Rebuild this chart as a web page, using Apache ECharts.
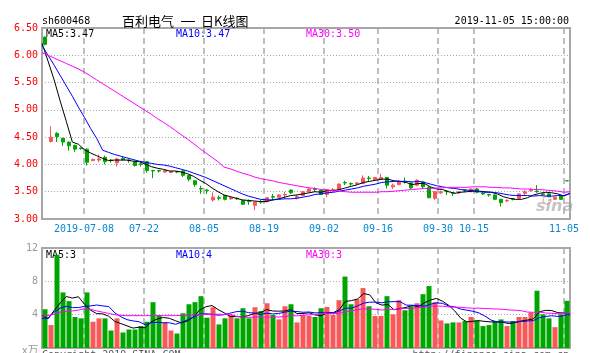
<!DOCTYPE html>
<html>
<head>
<meta charset="utf-8">
<title>sh600468 日K线图</title>
<script src="https://cdn.jsdelivr.net/npm/echarts@6/dist/echarts.min.js"></script>
<style>
    html, body { margin: 0; padding: 0; background: #fff; }
    #kline { width: 590px; height: 353px; }
</style>
</head>
<body>
<div id="kline"></div>
<script>
// 交易日
const dates = [
    '2019-06-27','2019-06-28','2019-07-01','2019-07-02','2019-07-03','2019-07-04','2019-07-05','2019-07-08','2019-07-09','2019-07-10',
    '2019-07-11','2019-07-12','2019-07-15','2019-07-16','2019-07-17','2019-07-18','2019-07-19','2019-07-22','2019-07-23','2019-07-24',
    '2019-07-25','2019-07-26','2019-07-29','2019-07-30','2019-07-31','2019-08-01','2019-08-02','2019-08-05','2019-08-06','2019-08-07',
    '2019-08-08','2019-08-09','2019-08-12','2019-08-13','2019-08-14','2019-08-15','2019-08-16','2019-08-19','2019-08-20','2019-08-21',
    '2019-08-22','2019-08-23','2019-08-26','2019-08-27','2019-08-28','2019-08-29','2019-08-30','2019-09-02','2019-09-03','2019-09-04',
    '2019-09-05','2019-09-06','2019-09-09','2019-09-10','2019-09-11','2019-09-12','2019-09-16','2019-09-17','2019-09-18','2019-09-19',
    '2019-09-20','2019-09-23','2019-09-24','2019-09-25','2019-09-26','2019-09-27','2019-09-30','2019-10-08','2019-10-09','2019-10-10',
    '2019-10-11','2019-10-14','2019-10-15','2019-10-16','2019-10-17','2019-10-18','2019-10-21','2019-10-22','2019-10-23','2019-10-24',
    '2019-10-25','2019-10-28','2019-10-29','2019-10-30','2019-10-31','2019-11-01','2019-11-04','2019-11-05'
];

// 开盘 / 收盘 / 最低 / 最高
const opens = [
    6.33,4.42,4.57,4.48,4.41,4.35,4.30,4.28,4.07,4.08, 4.13,4.08,4.03,4.11,4.08,4.05,4.01,4.05,3.89,3.89,
    3.86,3.85,3.87,3.88,3.80,3.70,3.56,3.53,3.35,3.39, 3.43,3.37,3.38,3.34,3.33,3.25,3.32,3.32,3.41,3.40,
    3.44,3.53,3.39,3.43,3.50,3.55,3.53,3.45,3.52,3.54, 3.67,3.65,3.64,3.65,3.75,3.72,3.73,3.76,3.59,3.63,
    3.69,3.66,3.62,3.68,3.58,3.38,3.48,3.51,3.48,3.48, 3.53,3.50,3.55,3.47,3.45,3.44,3.36,3.33,3.37,3.38,
    3.47,3.52,3.51,3.46,3.46,3.36,3.42,3.70
];
const closes = [
    6.20,4.50,4.51,4.41,4.34,4.28,4.29,4.04,4.09,4.10, 4.05,4.07,4.10,4.09,4.07,3.98,4.00,3.89,3.88,3.88,
    3.89,3.87,3.86,3.80,3.73,3.63,3.55,3.52,3.40,3.38, 3.36,3.39,3.37,3.27,3.32,3.31,3.31,3.39,3.40,3.44,
    3.45,3.48,3.41,3.50,3.55,3.54,3.45,3.54,3.54,3.64, 3.66,3.64,3.66,3.75,3.74,3.76,3.76,3.62,3.62,3.68,
    3.68,3.57,3.71,3.59,3.39,3.50,3.50,3.50,3.47,3.50, 3.52,3.55,3.49,3.46,3.44,3.36,3.30,3.34,3.36,3.46,
    3.50,3.53,3.50,3.45,3.41,3.40,3.36,3.70
];
const lows = [
    6.18,4.40,4.41,4.34,4.25,4.23,4.27,3.98,4.06,4.04, 4.00,4.03,3.96,4.07,4.03,3.96,3.96,3.85,3.75,3.85,
    3.85,3.84,3.84,3.77,3.69,3.59,3.46,3.46,3.32,3.34, 3.34,3.35,3.35,3.26,3.26,3.16,3.28,3.30,3.34,3.38,
    3.37,3.46,3.36,3.42,3.49,3.50,3.44,3.40,3.50,3.53, 3.62,3.61,3.62,3.64,3.68,3.71,3.72,3.56,3.55,3.62,
    3.65,3.55,3.60,3.57,3.38,3.35,3.46,3.44,3.42,3.46, 3.49,3.49,3.47,3.44,3.41,3.35,3.23,3.31,3.34,3.37,
    3.44,3.50,3.48,3.43,3.40,3.35,3.35,3.70
];
const highs = [
    6.35,4.70,4.59,4.48,4.42,4.36,4.31,4.29,4.11,4.18, 4.16,4.10,4.12,4.14,4.10,4.07,4.03,4.06,3.90,3.90,
    3.90,3.88,3.88,3.90,3.81,3.71,3.61,3.55,3.49,3.43, 3.44,3.41,3.39,3.35,3.36,3.32,3.35,3.40,3.46,3.46,
    3.50,3.54,3.45,3.51,3.57,3.58,3.54,3.55,3.57,3.65, 3.70,3.67,3.68,3.80,3.79,3.77,3.83,3.77,3.65,3.71,
    3.76,3.67,3.73,3.70,3.60,3.51,3.52,3.53,3.49,3.51, 3.54,3.56,3.57,3.49,3.46,3.45,3.37,3.36,3.38,3.47,
    3.53,3.57,3.62,3.48,3.47,3.41,3.43,3.70
];

// 均线（价格）
const ma5 = [
    6.22,5.89,5.55,5.16,4.79,4.41,4.37,4.27,4.21,4.16, 4.11,4.07,4.08,4.08,4.08,4.06,4.05,4.01,3.96,3.93,
    3.91,3.88,3.88,3.86,3.83,3.78,3.71,3.65,3.57,3.50, 3.44,3.41,3.38,3.35,3.34,3.33,3.32,3.32,3.35,3.37,
    3.40,3.43,3.44,3.46,3.48,3.50,3.49,3.52,3.52,3.54, 3.57,3.60,3.63,3.67,3.69,3.71,3.73,3.73,3.70,3.69,
    3.67,3.63,3.65,3.65,3.59,3.55,3.54,3.50,3.47,3.49, 3.50,3.51,3.51,3.50,3.49,3.46,3.41,3.38,3.36,3.36,
    3.39,3.44,3.47,3.49,3.48,3.46,3.42,3.47
];
const ma10 = [
    6.18,6.00,5.82,5.63,5.44,5.25,5.05,4.86,4.66,4.48, 4.26,4.22,4.18,4.15,4.12,4.09,4.06,4.04,4.02,4.00,
    3.99,3.97,3.94,3.91,3.88,3.84,3.80,3.76,3.71,3.66, 3.61,3.56,3.51,3.46,3.42,3.39,3.36,3.35,3.35,3.36,
    3.37,3.37,3.38,3.40,3.42,3.45,3.46,3.48,3.49,3.51, 3.53,3.55,3.57,3.60,3.62,3.64,3.67,3.68,3.69,3.69,
    3.69,3.68,3.69,3.67,3.64,3.61,3.59,3.57,3.56,3.54, 3.53,3.52,3.50,3.49,3.49,3.48,3.46,3.44,3.43,3.43,
    3.43,3.42,3.43,3.42,3.42,3.43,3.43,3.47
];
const ma30 = [
    6.05,6.00,5.95,5.90,5.85,5.80,5.75,5.69,5.62,5.55, 5.48,5.41,5.34,5.27,5.20,5.13,5.06,4.99,4.92,4.84,
    4.77,4.70,4.62,4.54,4.46,4.38,4.29,4.21,4.13,4.05, 3.95,3.92,3.88,3.84,3.81,3.77,3.74,3.72,3.70,3.67,
    3.65,3.63,3.61,3.59,3.57,3.56,3.54,3.53,3.52,3.51, 3.50,3.49,3.49,3.49,3.49,3.49,3.50,3.50,3.51,3.52,
    3.53,3.54,3.55,3.56,3.56,3.57,3.57,3.58,3.58,3.58, 3.58,3.59,3.59,3.59,3.58,3.58,3.57,3.57,3.56,3.55,
    3.55,3.54,3.54,3.53,3.52,3.51,3.49,3.50
];

// 成交量（万）
const volumes = [
    4.65,2.75,11.2,6.67,5.62,3.72,3.56,6.67,3.15,3.56, 3.56,2.10,3.56,1.86,2.22,2.22,2.63,3.15,5.50,3.96,
    3.07,2.10,1.74,4.16,5.25,5.50,6.22,3.64,4.89,2.83, 3.56,3.96,3.56,4.77,3.56,4.89,4.44,5.37,3.96,3.43,
    5.01,5.25,3.07,3.96,3.84,3.72,4.77,4.93,3.96,5.74, 8.57,5.25,5.86,7.19,5.01,3.84,3.84,6.22,4.04,5.74,
    4.53,5.01,5.37,6.46,7.43,5.50,3.31,2.95,3.07,3.07, 3.23,3.72,3.31,2.63,2.75,3.23,3.43,2.63,3.23,3.72,
    3.72,4.24,6.87,4.04,3.56,2.50,4.04,5.66
];
const vma5 = [
    3.90,3.50,4.50,5.40,6.18,5.99,6.15,5.25,4.54,4.13, 4.10,3.81,3.19,2.93,2.66,2.39,2.50,2.42,3.14,3.49,
    3.66,3.56,3.27,3.01,3.26,3.75,4.57,4.95,5.10,4.62, 4.23,3.78,3.76,3.74,3.88,4.15,4.24,4.61,4.44,4.42,
    4.44,4.60,4.14,4.14,4.23,3.97,3.87,4.24,4.24,4.62, 5.59,5.69,5.88,6.52,6.38,5.43,5.15,5.22,4.59,4.74,
    4.87,5.11,4.94,5.42,5.76,5.95,5.61,5.13,4.45,3.58, 3.13,3.21,3.28,3.19,3.13,3.13,3.07,2.93,3.05,3.25,
    3.35,3.51,4.36,4.52,4.49,4.24,4.20,3.96
];
const vma10 = [
    3.55,3.60,4.30,4.80,5.00,4.85,4.85,5.00,5.05,5.16, 5.05,4.98,4.22,3.74,3.40,3.25,3.15,2.80,3.04,3.08,
    3.03,3.03,2.85,3.08,3.38,3.71,4.07,4.11,4.05,3.94, 3.99,4.18,4.36,4.42,4.25,4.19,4.01,4.18,4.09,4.15,
    4.30,4.42,4.38,4.29,4.32,4.21,4.24,4.19,4.19,4.43, 4.78,4.78,5.06,5.38,5.50,5.51,5.42,5.55,5.56,5.56,
    5.15,5.13,5.08,5.01,5.25,5.41,5.36,5.03,4.94,4.67, 4.54,4.41,4.21,3.82,3.35,3.13,3.14,3.11,3.12,3.19,
    3.24,3.29,3.65,3.79,3.87,3.79,3.86,4.16
];
const vma30 = [
    3.80,3.90,4.05,4.30,4.40,4.45,4.55,4.70,4.65,4.45, 4.30,4.15,4.00,3.92,3.88,3.88,3.88,3.88,3.88,3.88,
    3.88,3.88,3.88,3.90,3.92,3.95,4.00,4.02,4.04,4.06, 4.02,4.06,3.81,3.74,3.67,3.71,3.74,3.70,3.73,3.72,
    3.77,3.88,3.86,3.93,3.98,4.03,4.10,4.16,4.11,4.17, 4.36,4.46,4.60,4.70,4.69,4.64,4.56,4.64,4.61,4.71,
    4.74,4.78,4.84,4.89,5.02,5.04,5.01,4.93,4.90,4.88, 4.82,4.77,4.78,4.74,4.70,4.68,4.64,4.56,4.54,4.47,
    4.31,4.28,4.31,4.20,4.16,4.11,4.12,4.10
];

// 横轴刻度
const tickDates = ['2019-07-08','2019-07-22','2019-08-05','2019-08-19','2019-09-02','2019-09-16','2019-09-30','2019-10-15','2019-11-05'];
const tickLabels = ['2019-07-08','07-22','08-05','08-19','09-02','09-16','09-30','10-15','11-05'];

const RED = '#f85858';
const GREEN = '#00a600';
const MONO = '"DejaVu Sans Mono", monospace';
const CJK = '"Noto Sans CJK SC", sans-serif';
const GRID_LINE = '#aaaaaa';

const tickIdx = tickDates.map(d => dates.indexOf(d));
const isTick = index => tickIdx.indexOf(index) >= 0;

const chart = echarts.init(document.getElementById('kline'));

const dashedSplit = {
    show: true,
    interval: isTick,
    lineStyle: { color: GRID_LINE, width: 1.5, type: [6, 4] }
};
const dottedSplit = {
    show: true,
    lineStyle: { color: GRID_LINE, width: 1, type: [1, 2] }
};

function maLine(name, data, color, xIdx, yIdx) {
    return {
        name: name,
        type: 'line',
        xAxisIndex: xIdx,
        yAxisIndex: yIdx,
        data: data,
        symbol: 'none',
        silent: true,
        lineStyle: { color: color, width: 1 },
        z: 5
    };
}

// 图上的文字
function label(text, x, y, color, font, align) {
    return {
        type: 'text',
        x: x,
        y: y,
        silent: true,
        style: {
            text: text,
            fill: color,
            font: font || '10px ' + MONO,
            textAlign: align || 'left',
            textVerticalAlign: 'middle'
        }
    };
}

const option = {
    animation: false,
    backgroundColor: '#ffffff',
    grid: [
        { left: 42, right: 20, top: 28, height: 191, show: true, borderColor: '#a6a6a6', borderWidth: 2 },
        { left: 42, right: 20, top: 248, height: 100, show: true, borderColor: '#a6a6a6', borderWidth: 2 }
    ],
    xAxis: [
        {
            type: 'category',
            gridIndex: 0,
            data: dates,
            boundaryGap: true,
            axisLine: { show: false },
            axisTick: { show: false },
            axisLabel: {
                interval: isTick,
                formatter: (value, index) => tickLabels[tickIdx.indexOf(index)],
                color: '#0a86d0',
                fontFamily: MONO,
                fontSize: 10,
                margin: 5,
                padding: [0, 6, 0, 0]
            },
            splitLine: dashedSplit
        },
        { type: 'category', gridIndex: 0, data: dates, boundaryGap: false, show: false },
        {
            type: 'category',
            gridIndex: 1,
            data: dates,
            boundaryGap: true,
            axisLine: { show: false },
            axisTick: { show: false },
            axisLabel: { show: false },
            splitLine: dashedSplit
        },
        { type: 'category', gridIndex: 1, data: dates, boundaryGap: false, show: false }
    ],
    yAxis: [
        {
            type: 'value',
            gridIndex: 0,
            min: 3,
            max: 6.5,
            interval: 0.5,
            axisLine: { show: false },
            axisTick: { show: false },
            axisLabel: {
                color: '#ff0000',
                fontFamily: MONO,
                fontSize: 10,
                margin: 4,
                formatter: v => v.toFixed(2)
            },
            splitLine: dottedSplit
        },
        {
            type: 'value',
            gridIndex: 1,
            min: 0,
            max: 12,
            interval: 4,
            axisLine: { show: false },
            axisTick: { show: false },
            axisLabel: {
                color: '#999999',
                fontFamily: MONO,
                fontSize: 10,
                margin: 4,
                showMinLabel: false
            },
            splitLine: dottedSplit
        }
    ],
    series: [
        {
            name: '日K',
            type: 'candlestick',
            xAxisIndex: 0,
            yAxisIndex: 0,
            barWidth: 4,
            data: dates.map((d, i) => [opens[i], closes[i], lows[i], highs[i]]),
            itemStyle: {
                color: RED,
                color0: GREEN,
                borderColor: RED,
                borderColor0: GREEN,
                borderColorDoji: GREEN,
                borderWidth: 1
            },
            z: 3
        },
        maLine('MA5', ma5, '#000000', 1, 0),
        maLine('MA10', ma10, '#0000ff', 1, 0),
        maLine('MA30', ma30, '#ff00ff', 1, 0),
        {
            name: '成交量',
            type: 'bar',
            xAxisIndex: 2,
            yAxisIndex: 1,
            barWidth: 5,
            data: volumes.map((v, i) => ({
                value: v,
                itemStyle: { color: closes[i] > opens[i] ? RED : GREEN }
            })),
            z: 3
        },
        maLine('VMA5', vma5, '#000000', 3, 1),
        maLine('VMA10', vma10, '#0000ff', 3, 1),
        maLine('VMA30', vma30, '#ff00ff', 3, 1)
    ],
    graphic: [
        label('sh600468', 42, 21, '#000000'),
        // 标题
        label('百利电气', 122, 21, '#000000', '13px ' + CJK),
        label('—', 181, 21, '#000000', '14px "Liberation Sans", sans-serif'),
        label('日K线图', 201, 21, '#000000', '13px ' + CJK),
        label('2019-11-05 15:00:00', 569, 21, '#000000', null, 'right'),
        label('MA5:3.47', 46, 34, '#000000'),
        label('MA10:3.47', 176, 34, '#0000ff'),
        label('MA30:3.50', 306, 34, '#ff00ff'),
        label('MA5:3', 46, 255, '#000000'),
        label('MA10:4', 176, 255, '#0000ff'),
        label('MA30:3', 306, 255, '#ff00ff'),
        // sina 水印
        {
            type: 'circle',
            silent: true,
            shape: { cx: 547, cy: 200, r: 4 },
            style: { fill: 'none', stroke: 'rgba(230,140,140,0.6)', lineWidth: 1.5 }
        },
        label('sina', 536, 207, 'rgba(150,150,150,0.55)', 'italic bold 16px "DejaVu Sans", sans-serif'),
        label('x万', 22, 350, '#999999', '11px ' + CJK),
        label('Copyright 2019 SINA.COM', 42, 355, '#555555'),
        label('http://finance.sina.com.cn', 569, 355, '#555555', null, 'right')
    ]
};

chart.setOption(option);

window.addEventListener('resize', function() {
    chart.resize();
});
</script>
</body>
</html>
